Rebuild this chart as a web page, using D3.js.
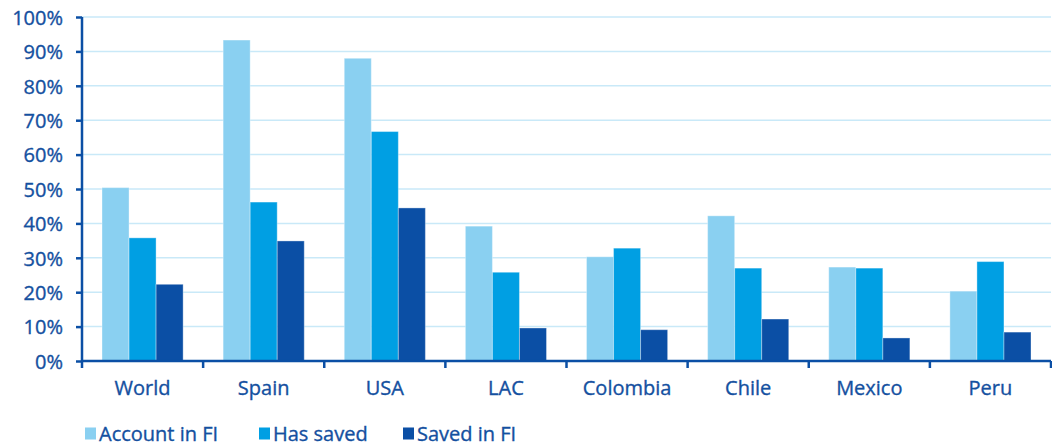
<!DOCTYPE html>
<html><head><meta charset="utf-8">
<script src="https://cdn.jsdelivr.net/npm/d3@7"></script>
<style>body{margin:0;background:#fff}svg{display:block}text{font-family:"Open Sans",sans-serif;fill:#1450a0;stroke:#1450a0;stroke-width:0.35px}</style>
</head><body>
<svg id="c" width="1052" height="447"></svg>
<script>
const categories = ["World","Spain","USA","LAC","Colombia","Chile","Mexico","Peru"];
const seriesNames = ["Account in FI","Has saved","Saved in FI"];
const accountInFI = [50.4, 93.3, 88.0, 39.2, 30.3, 42.2, 27.3, 20.3];
const hasSaved    = [35.8, 46.2, 66.7, 25.8, 32.8, 27.0, 27.0, 28.9];
const savedInFI   = [22.3, 34.9, 44.5, 9.6, 9.1, 12.2, 6.7, 8.4];
const yTicks = [0,10,20,30,40,50,60,70,80,90,100];
const colors = ["#8ad0f1","#009fe3","#0b4fa5"];

(function(){
const series = [accountInFI, hasSaved, savedInFI];
const svg = d3.select("#c");
const pL = 82, pR = 1051, pT = 17, pB = 361;
const fs = "20px";
const x0 = d3.scaleBand().domain(categories).range([pL, pR]).paddingInner(0).paddingOuter(0);
const x1 = d3.scaleBand().domain(seriesNames).range([20, x0.bandwidth()-20]).padding(0);
const y = d3.scaleLinear().domain([0,100]).range([pB, pT]);

// gridlines
svg.append("g").selectAll("line").data(yTicks.filter(d=>d>0)).join("line")
  .attr("x1", pL).attr("x2", pR).attr("y1", d=>y(d)).attr("y2", d=>y(d))
  .attr("stroke", "#c9e9f8").attr("stroke-width", 1.5);

// bars
const g = svg.append("g");
categories.forEach((c, i) => {
  seriesNames.forEach((s, j) => {
    g.append("rect")
      .attr("x", x0(c) + x1(s)).attr("width", x1.bandwidth())
      .attr("y", y(series[j][i])).attr("height", y(0) - y(series[j][i]))
      .attr("fill", colors[j]).attr("stroke", "rgba(255,255,255,0.35)").attr("stroke-width", 1);
  });
});

// y axis
const yAxis = d3.axisLeft(y).tickValues(yTicks).tickFormat(d => d + "%").tickSize(6).tickPadding(13);
const ya = svg.append("g").attr("transform", `translate(${pL},0)`).call(yAxis);
ya.attr("font-family", null).attr("font-size", null);
ya.select(".domain").attr("stroke", "#0b4fa5").attr("stroke-width", 2.5).attr("d", `M0,${pB}V${pT}`);
ya.selectAll(".tick line").attr("stroke", "#0b4fa5").attr("stroke-width", 2.5);
ya.selectAll(".tick text").style("font-size", fs).attr("fill", "#1450a0").attr("dy", "0.36em");

// x axis
const xa = svg.append("g").attr("transform", `translate(0,${pB})`);
xa.append("line").attr("x1", pL).attr("x2", pR).attr("y1", 0).attr("y2", 0)
  .attr("stroke", "#0b4fa5").attr("stroke-width", 2.5);
const bounds = categories.map(c => x0(c)).concat([x0.range()[1]]);
xa.selectAll("line.t").data(bounds).join("line").attr("class","t")
  .attr("x1", d=>d).attr("x2", d=>d).attr("y1", 0).attr("y2", 7)
  .attr("stroke", "#0b4fa5").attr("stroke-width", 2.5);
xa.selectAll("text").data(categories).join("text")
  .attr("x", d => x0(d) + x0.bandwidth()/2).attr("y", 34)
  .attr("text-anchor", "middle").style("font-size", fs).text(d=>d);

// legend
const legendX = [85, 259, 403];
const lg = svg.append("g");
seriesNames.forEach((s, j) => {
  lg.append("rect").attr("x", legendX[j]).attr("y", 427.5).attr("width", 11).attr("height", 12).attr("fill", colors[j]);
  lg.append("text").attr("x", legendX[j] + 14).attr("y", 441).style("font-size", fs).text(s);
});
})();
</script>
</body></html>
